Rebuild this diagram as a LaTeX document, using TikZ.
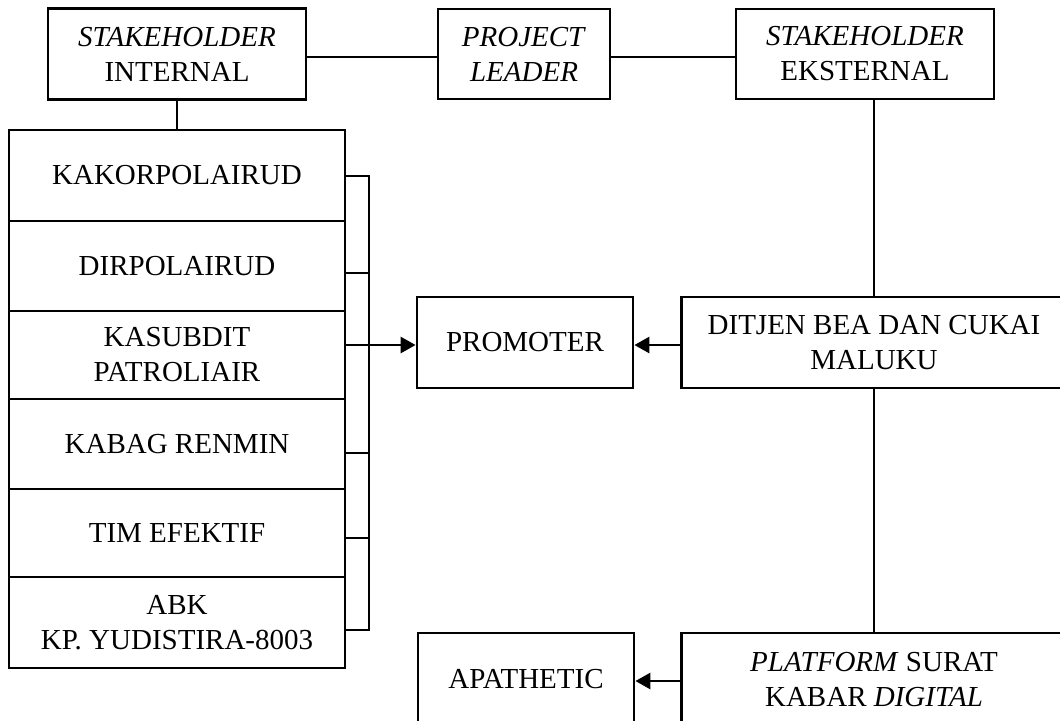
\documentclass[tikz,border=0pt]{standalone}
\usepackage{fontspec}
\setmainfont{Liberation Serif}
\usetikzlibrary{arrows.meta}
\tikzset{
  box/.style={draw=black, line width=1.4pt, rectangle, inner sep=0pt, align=center,
    font=\fontsize{14.5}{17.5}\selectfont},
  conn/.style={draw=black, line width=1.4pt},
  arr/.style={conn, -{Triangle[length=7.5pt,width=8pt]}}
}
\begin{document}
\begin{tikzpicture}[x=0.5pt,y=-0.5pt]
\useasboundingbox (0,0) rectangle (1060,720);
\clip (0,0) rectangle (1060,720);
\fill[white] (0,0) rectangle (1060,720);
% top row
\node[box, minimum width=129pt, minimum height=45.5pt] (si) at (177,54) {\textit{STAKEHOLDER}\\INTERNAL};
\node[box, minimum width=86pt, minimum height=45pt] (pl) at (524,54) {\textit{PROJECT}\\\textit{LEADER}};
\node[box, minimum width=129pt, minimum height=45pt] (se) at (865,54) {\textit{STAKEHOLDER}\\EKSTERNAL};
% left column
\node[box, minimum width=168pt, minimum height=45.5pt] (c1) at (177,175.5) {KAKORPOLAIRUD};
\node[box, minimum width=168pt, minimum height=45pt] (c2) at (177,266) {DIRPOLAIRUD};
\node[box, minimum width=168pt, minimum height=44pt] (c3) at (177,355) {KASUBDIT\\PATROLIAIR};
\node[box, minimum width=168pt, minimum height=45pt] (c4) at (177,444) {KABAG RENMIN};
\node[box, minimum width=168pt, minimum height=44pt] (c5) at (177,533) {TIM EFEKTIF};
\node[box, minimum width=168pt, minimum height=45.5pt] (c6) at (177,622.5) {ABK\\KP. YUDISTIRA-8003};
% middle/right
\node[box, minimum width=108pt, minimum height=45.5pt] (prom) at (525,342.5) {PROMOTER};
\node[box, minimum width=192.5pt, minimum height=45.5pt] (dit) at (874,342.5) {DITJEN BEA DAN CUKAI\\MALUKU};
\node[box, minimum width=108pt, minimum height=46.5pt] (apa) at (526,679.5) {APATHETIC};
\node[box, minimum width=192.5pt, minimum height=46.5pt] (plat) at (874,679.5) {\textit{PLATFORM} SURAT\\KABAR \textit{DIGITAL}};
% bracket coordinates
\coordinate (b1) at (369,176);
\coordinate (b2) at (369,273);
\coordinate (b3) at (369,345);
\coordinate (b4) at (369,453);
\coordinate (b5) at (369,538);
\coordinate (b6) at (369,630);
% connectors
\draw[conn] ([yshift=-1.5pt]si.east) -- ([yshift=-1.5pt]pl.west);
\draw[conn] ([yshift=-1.5pt]pl.east) -- ([yshift=-1.5pt]se.west);
\draw[conn] (si.south) -- (c1.north);
\draw[conn] (dit.north) -- (dit.north |- se.south);
\draw[conn] (dit.south) -- (plat.north);
\foreach \b in {b1,b2,b3,b4,b5,b6} {\draw[conn] (\b -| c1.east) -- (\b);}
\draw[conn, line cap=rect] (b1) -- (b6);
\draw[arr] (b3) -- (b3 -| prom.west);
\draw[arr] ([yshift=-1.25pt]dit.west) -- ([yshift=-1.25pt]prom.east);
\draw[arr] ([yshift=-0.75pt]plat.west) -- ([yshift=-0.75pt]apa.east);
\end{tikzpicture}
\end{document}
